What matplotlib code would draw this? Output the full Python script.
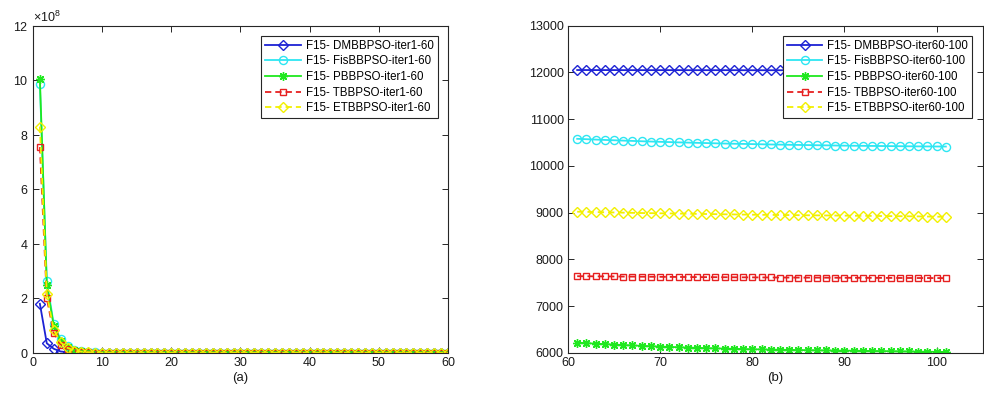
import matplotlib
matplotlib.use("Agg")
import matplotlib.pyplot as plt
from matplotlib.ticker import ScalarFormatter
import numpy as np

plt.rcParams['font.family'] = ['Liberation Sans', 'DejaVu Sans']
plt.rcParams['mathtext.fontset'] = 'custom'
plt.rcParams['mathtext.rm'] = 'Liberation Sans'
plt.rcParams['mathtext.it'] = 'Liberation Sans'
plt.rcParams['font.size'] = 9

# ---- iterations 1-60 ----
iter_a = list(range(1, 61))
dmbbpso_a = [
    1.80e8, 3.50e7, 1.50e7, 5.00e6, 2.00e6, 8.00e5, 3.50e5, 1.50e5, 8.00e4, 5.00e4,
    3.60e4, 2.80e4, 2.30e4, 2.00e4, 1.80e4, 1.65e4, 1.55e4, 1.48e4, 1.42e4, 1.38e4,
    13500, 13300, 13100, 12950, 12850, 12750, 12680, 12620, 12570, 12520,
    12480, 12440, 12410, 12380, 12350, 12320, 12300, 12280, 12260, 12240,
    12220, 12200, 12185, 12170, 12155, 12140, 12130, 12120, 12110, 12100,
    12095, 12090, 12085, 12080, 12075, 12070, 12066, 12062, 12058, 12055]
fisbbpso_a = [
    9.85e8, 2.65e8, 1.05e8, 5.0e7, 2.5e7, 1.2e7, 6.0e6, 3.0e6, 1.5e6, 8.0e5,
    4.5e5, 2.6e5, 1.6e5, 1.0e5, 7.0e4, 5.0e4, 3.8e4, 3.0e4, 2.5e4, 2.1e4,
    18500, 16800, 15500, 14500, 13700, 13100, 12600, 12200, 11900, 11650,
    11450, 11300, 11180, 11080, 11000, 10940, 10890, 10850, 10815, 10785,
    10760, 10740, 10720, 10705, 10690, 10678, 10666, 10655, 10645, 10636,
    10628, 10620, 10613, 10607, 10601, 10596, 10592, 10588, 10585, 10582]
pbbpso_a = [
    1.005e9, 2.50e8, 1.00e8, 4.5e7, 2.0e7, 1.0e7, 5.0e6, 2.5e6, 1.2e6, 6.0e5,
    3.2e5, 1.8e5, 1.1e5, 7.0e4, 4.5e4, 3.0e4, 2.1e4, 1.55e4, 1.2e4, 1.0e4,
    8900, 8200, 7700, 7350, 7100, 6920, 6800, 6700, 6630, 6580,
    6540, 6505, 6475, 6450, 6428, 6408, 6390, 6374, 6360, 6347,
    6335, 6324, 6314, 6305, 6296, 6288, 6280, 6273, 6266, 6260,
    6254, 6249, 6244, 6240, 6236, 6232, 6229, 6226, 6224, 6222]
tbbpso_a = [
    7.55e8, 2.00e8, 7.2e7, 3.0e7, 1.5e7, 7.0e6, 3.5e6, 1.7e6, 8.5e5, 4.3e5,
    2.3e5, 1.3e5, 8.0e4, 5.2e4, 3.5e4, 2.5e4, 1.9e4, 1.5e4, 1.25e4, 1.08e4,
    9800, 9100, 8650, 8350, 8150, 8020, 7930, 7860, 7810, 7770,
    7740, 7720, 7705, 7692, 7682, 7674, 7668, 7663, 7659, 7656,
    7653, 7651, 7649, 7647, 7646, 7645, 7644, 7643, 7643, 7642,
    7642, 7642, 7641, 7641, 7641, 7641, 7640, 7640, 7640, 7640]
etbbpso_a = [
    8.30e8, 2.15e8, 8.5e7, 3.8e7, 1.8e7, 8.5e6, 4.2e6, 2.1e6, 1.05e6, 5.3e5,
    2.8e5, 1.6e5, 1.0e5, 6.5e4, 4.4e4, 3.1e4, 2.3e4, 1.8e4, 1.48e4, 1.28e4,
    11500, 10700, 10150, 9800, 9580, 9430, 9330, 9260, 9210, 9170,
    9140, 9120, 9105, 9092, 9082, 9074, 9067, 9061, 9056, 9052,
    9048, 9045, 9042, 9040, 9038, 9036, 9034, 9033, 9032, 9031,
    9030, 9029, 9028, 9027, 9026, 9025, 9024, 9023, 9022, 9021]

# ---- iterations 61-101 ----
iter_b = list(range(61, 102))
dmbbpso_b = [
    12052, 12052, 12051, 12051, 12051, 12050, 12050, 12050, 12050, 12050,
    12050, 12050, 12049, 12049, 12049, 12049, 12049, 12049, 12048, 12048,
    12048, 12048, 12048, 12048, 12047, 12047, 12047, 12047, 12047, 12047,
    12046, 12046, 12046, 12046, 12046, 12046, 12045, 12045, 12045, 12045,
    12045]
fisbbpso_b = [
    10580, 10572, 10564, 10556, 10549, 10542, 10535, 10528, 10522, 10516,
    10510, 10504, 10499, 10494, 10489, 10484, 10479, 10475, 10471, 10467,
    10463, 10459, 10456, 10452, 10449, 10446, 10443, 10440, 10437, 10434,
    10432, 10430, 10428, 10426, 10424, 10422, 10420, 10418, 10417, 10416,
    10415]
pbbpso_b = [
    6219, 6208, 6197, 6187, 6177, 6167, 6158, 6150, 6142, 6134,
    6127, 6120, 6113, 6107, 6101, 6096, 6091, 6086, 6081, 6077,
    6073, 6069, 6066, 6063, 6060, 6057, 6054, 6051, 6049, 6047,
    6045, 6043, 6040, 6037, 6035, 6032, 6029, 6026, 6024, 6021,
    6019]
tbbpso_b = [
    7640, 7639, 7637, 7636, 7634, 7632, 7631, 7629, 7628, 7626,
    7625, 7624, 7622, 7621, 7620, 7619, 7618, 7617, 7616, 7615,
    7614, 7613, 7612, 7611, 7610, 7609, 7609, 7608, 7607, 7606,
    7606, 7605, 7604, 7604, 7603, 7602, 7602, 7601, 7601, 7600,
    7600]
etbbpso_b = [
    9020, 9016, 9012, 9008, 9004, 9000, 8996, 8992, 8989, 8986,
    8983, 8980, 8977, 8974, 8971, 8968, 8965, 8962, 8959, 8956,
    8954, 8952, 8950, 8948, 8946, 8944, 8942, 8940, 8938, 8936,
    8934, 8932, 8930, 8928, 8926, 8924, 8922, 8920, 8917, 8914,
    8911]

names = ["DMBBPSO", "FisBBPSO", "PBBPSO", "TBBPSO", "ETBBPSO"]

BLUE = '#1c22d4'
CYAN = '#2de6f2'
GREEN = '#1fe81f'
RED = '#e62020'
YELLOW = '#f2f000'
AX_COLOR = '#262626'
TXT_COLOR = '#1a1a1a'

styles = [
    dict(color=BLUE, marker='D', ls='-', ms=4.8),
    dict(color=CYAN, marker='o', ls='-', ms=5.8),
    dict(color=GREEN, marker=(8, 2, 0), ls='-', ms=6.2),
    dict(color=RED, marker='s', ls=(0, (3.5, 2.2)), ms=5.0),
    dict(color=YELLOW, marker='D', ls=(0, (3.5, 2.2)), ms=4.8),
]

fig = plt.figure(figsize=(9.84, 3.96), dpi=100)
ax_a = fig.add_axes([0.0335, 0.109, 0.4217, 0.826])
ax_b = fig.add_axes([0.5772, 0.109, 0.4215, 0.826])


def draw(ax, x, series, suffix):
    for name, y, st in zip(names, series, styles):
        ax.plot(x, y, color=st['color'], linestyle=st['ls'], linewidth=1.3,
                marker=st['marker'], markersize=st['ms'],
                markerfacecolor='none', markeredgecolor=st['color'],
                markeredgewidth=1.0, label=f"F15- {name}-{suffix}")
    for sp in ax.spines.values():
        sp.set_color(AX_COLOR)
        sp.set_linewidth(0.8)
    ax.tick_params(direction='in', top=True, right=True, length=4,
                   width=0.7, color=AX_COLOR, labelcolor=TXT_COLOR,
                   labelsize=9, pad=3)
    leg = ax.legend(loc='upper right', bbox_to_anchor=(0.975, 0.97),
                    fancybox=False, framealpha=1, edgecolor=AX_COLOR,
                    fontsize=8.3, handlelength=3.1, handletextpad=0.43,
                    labelspacing=0.32, borderpad=0.35, borderaxespad=0.0)
    leg.get_frame().set_linewidth(0.8)
    leg.set_zorder(10)


draw(ax_a, iter_a, [dmbbpso_a, fisbbpso_a, pbbpso_a, tbbpso_a, etbbpso_a], "iter1-60")
ax_a.set_xlim(0, 60)
ax_a.set_ylim(0, 12e8)
ax_a.set_xticks(range(0, 61, 10))
ax_a.set_yticks(np.arange(0, 12.1e8, 2e8))
fmt = ScalarFormatter(useMathText=True)
fmt.set_powerlimits((8, 8))
ax_a.yaxis.set_major_formatter(fmt)
ax_a.yaxis.get_offset_text().set_fontsize(9)
ax_a.yaxis.get_offset_text().set_color(TXT_COLOR)
ax_a.set_xlabel("(a)", fontsize=9.5, color=TXT_COLOR, labelpad=2)

draw(ax_b, iter_b, [dmbbpso_b, fisbbpso_b, pbbpso_b, tbbpso_b, etbbpso_b], "iter60-100")
ax_b.set_xlim(60, 105)
ax_b.set_ylim(6000, 13000)
ax_b.set_xticks(range(60, 101, 10))
ax_b.set_yticks(range(6000, 13001, 1000))
ax_b.set_xlabel("(b)", fontsize=9.5, color=TXT_COLOR, labelpad=2)

fig.savefig("out.png", dpi=100, facecolor='white')
